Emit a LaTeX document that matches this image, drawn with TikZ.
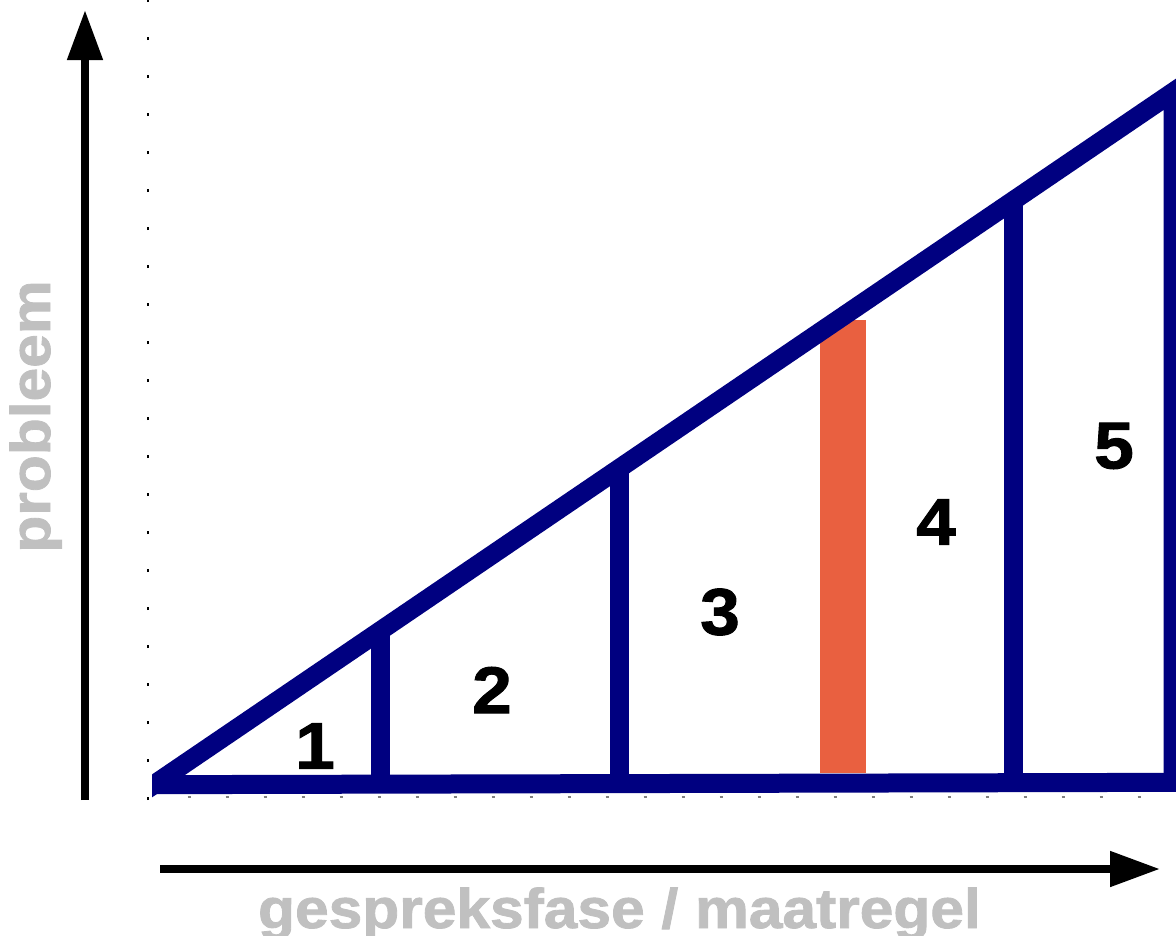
\documentclass[tikz,border=0pt]{standalone}
\usepackage{fontspec}
\setmainfont{Liberation Sans}
\newfontfamily\lblfont{Liberation Sans}[FakeStretch=1.08, FakeBold=1.5]
\usetikzlibrary{arrows.meta}
\definecolor{navy}{RGB}{0,0,128}
\definecolor{barcol}{RGB}{233,96,64}
\definecolor{lblcol}{RGB}{192,192,192}
\tikzset{
  frame/.style={draw=navy, line width=19pt, line join=miter},
  axis/.style={line width=8pt, -{Triangle[length=50pt,width=34pt]}},
  num/.style={font=\lblfont\bfseries\fontsize{66}{70}\selectfont, inner sep=0pt, anchor=center},
  axlabel/.style={font=\lblfont\bfseries\fontsize{56}{60}\selectfont, text=lblcol, inner sep=0pt, anchor=base},
  vguide/.style={line width=1.3pt, dash pattern=on 3pt off 35pt},
  hguide/.style={draw=gray, line width=1.5pt, dash pattern=on 3pt off 35pt, dash phase=3pt},
}
\begin{document}
\begin{tikzpicture}[x=1pt,y=-1pt]
\useasboundingbox (0,0) rectangle (1176,935);
% dotted guides
\coordinate (vg0) at (148,800);
\coordinate (vg1) at (148,-2);
\coordinate (hg0) at (152.5,797);
\coordinate (hg1) at (1145,797);
\draw[vguide] (vg0) -- (vg1);
\draw[hguide] (hg0) -- (hg1);
% highlighted bar
\fill[barcol] (820,320) rectangle (866,773);
% frame
\begin{scope}
  \clip (152,0) rectangle (1176,935);
  \coordinate (BL) at (140,784.7);
  \coordinate (BR) at (1190,782.3);
  \coordinate (HL) at (140,794.05);
  \coordinate (AP) at (1173,92.1);
  \coordinate (RB) at (1173,782.5);
  \draw[frame] (BL) -- (BR);
  \draw[frame] (RB) -- (AP) -- (HL);
  \coordinate (v1b) at (380,784); \coordinate (v1t) at (380,631);
  \coordinate (v2b) at (619.5,783.5); \coordinate (v2t) at (619.5,468.5);
  \coordinate (v3b) at (1013,783); \coordinate (v3t) at (1013,200.9);
  \draw[frame] (v1b) -- (v1t);
  \draw[frame] (v2b) -- (v2t);
  \draw[frame] (v3b) -- (v3t);
\end{scope}
% numbers
\node[num] (n1) at (315,746) {1};
\node[num] (n2) at (492,690) {2};
\node[num] (n3) at (720,612) {3};
\node[num] (n4) at (936,522) {4};
\node[num] (n5) at (1114,446) {5};
% axes
\coordinate (ya0) at (85,800);
\coordinate (ya1) at (85,10);
\coordinate (xa0) at (160,869);
\coordinate (xa1) at (1160,869);
\draw[axis] (ya0) -- (ya1);
\draw[axis] (xa0) -- (xa1);
% axis labels
\node[axlabel] (xl) at (619.5,928) {gespreksfase / maatregel};
\node[axlabel, rotate=90] (yl) at (50,416.5) {probleem};
\end{tikzpicture}
\end{document}
